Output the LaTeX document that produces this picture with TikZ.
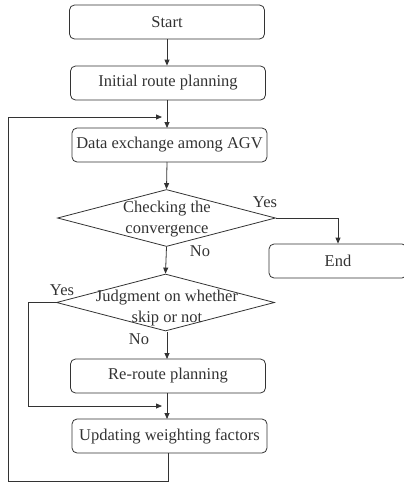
\documentclass[tikz,border=0pt]{standalone}
\usepackage{fontspec}
\setmainfont{Liberation Serif}
\usetikzlibrary{shapes.geometric,arrows.meta}
\definecolor{ink}{HTML}{333333}
\begin{document}
\begin{tikzpicture}[x=1pt,y=-1pt,
  font=\fontsize{16.5}{21}\selectfont, text=ink,
  box/.style={draw=ink, line width=0.8pt, rounded corners=5pt, minimum width=195pt, minimum height=34pt, inner sep=0pt},
  dia/.style={diamond, draw=ink, line width=0.8pt, inner sep=0pt, minimum width=218pt, minimum height=57pt},
  txt/.style={align=center, inner sep=0pt},
  lbl/.style={inner sep=0pt},
  arr/.style={draw=ink, line width=0.8pt, -{Triangle[length=6pt,width=5pt]}},
  ln/.style={draw=ink, line width=0.8pt}]
\useasboundingbox (0,0) rectangle (404,482);
\node[box] (start) at (167,22) {Start};
\node[box] (init) at (168,83) {Initial route planning};
\node[box] (data) at (169.5,145) {Data exchange among AGV};
\node[dia] (d1) at (166.5,218) {};
\node[txt] (d1t) at (167,219.5) {Checking the\\convergence};
\node[box, minimum width=138pt] (end) at (338,261) {End};
\node[dia] (d2) at (165.5,302.5) {};
\node[txt] (d2t) at (167,308) {Judgment on whether\\skip or not};
\node[box] (re) at (168,376) {Re-route planning};
\node[box] (upd) at (169.5,436) {Updating weighting factors};
\node[lbl] (yes1) at (265,202) {Yes};
\node[lbl] (no1) at (200,251) {No};
\node[lbl] (yes2) at (62,290) {Yes};
\node[lbl] (no2) at (139,339) {No};
\coordinate (j1) at (167,117);
\coordinate (j2) at (167,406);
\draw[arr] (start.south) -- (start.south |- init.north);
\draw[arr] (167,100) -- (167,128);
\draw[arr] (167,162) -- (d1.north);
\draw[arr] (d1.east) -| (end.north);
\draw[arr] (d1.south) -- (d2.north);
\draw[arr] (167,332) -- (167,359);
\draw[arr] (167,393) -- (167,419);
\draw[arr] (d2.west) -- (28,302.5) -- (28,406) -- ([xshift=-5pt]j2);
\draw[arr] (168,453) -- (168,481) -- (8,481) -- (8,117) -- ([xshift=-5pt]j1);
\end{tikzpicture}
\end{document}
